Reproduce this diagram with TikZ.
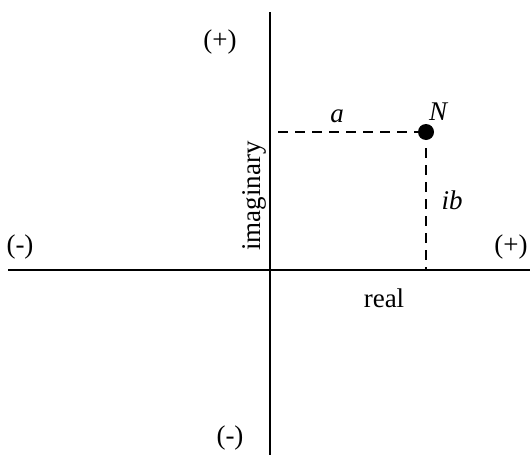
\documentclass[tikz,border=0pt]{standalone}
\usepackage{fontspec}
\setmainfont{Liberation Serif}
\begin{document}
\begin{tikzpicture}[x=1pt,y=-1pt,
  axis/.style={line width=2.8pt},
  guide/.style={line width=2pt, dash pattern=on 10pt off 7pt},
  lbl/.style={font=\fontsize{27}{32}\selectfont, inner sep=0pt},
  mathlbl/.style={font=\fontsize{27}{32}\selectfont\itshape, inner sep=0pt}]
\useasboundingbox (0,0) rectangle (530,455);
\coordinate (vtop) at (270,12);
\coordinate (vbot) at (270,455);
\coordinate (hl) at (8,270);
\coordinate (hr) at (530,270);
\draw[axis] (vtop) -- (vbot);
\draw[axis] (hl) -- (hr);
\node[circle, fill=black, minimum size=16pt, inner sep=0pt] (N) at (426,132) {};
\coordinate (hstart) at (278,132);
\coordinate (foot) at (426,270);
\draw[guide] (hstart) -- (N.west);
\draw[guide] ([yshift=-8pt]N.south) -- (foot);
\node[lbl] (pt) at (220,42) {(+)};
\node[lbl] (ml) at (20,247) {(-)};
\node[lbl] (pr) at (511,247) {(+)};
\node[lbl] (mb) at (230,438) {(-)};
\node[mathlbl] (Nl) at (438,112) {N};
\node[mathlbl] (al) at (337,116) {a};
\node[mathlbl] (ibl) at (452,200) {ib};
\node[lbl] (rl) at (384,298) {real};
\node[lbl, rotate=90] (il) at (254,196) {imaginary};
\end{tikzpicture}
\end{document}
